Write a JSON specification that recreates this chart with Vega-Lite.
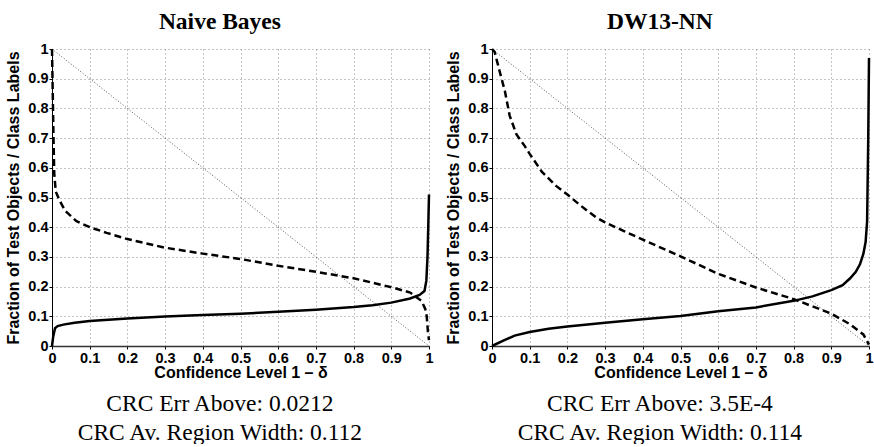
{
  "$schema": "https://vega.github.io/schema/vega-lite/v6.json",
  "padding": {"left": 5, "top": 9, "right": 0, "bottom": 0},
  "background": "white",
  "datasets": {
    "nb_solid": [
      {"x": 0, "y": 0}, {"x": 0.003, "y": 0.03}, {"x": 0.008, "y": 0.06}, {"x": 0.015, "y": 0.067},
      {"x": 0.03, "y": 0.072}, {"x": 0.06, "y": 0.078}, {"x": 0.1, "y": 0.084}, {"x": 0.2, "y": 0.093},
      {"x": 0.3, "y": 0.099}, {"x": 0.4, "y": 0.104}, {"x": 0.5, "y": 0.109}, {"x": 0.6, "y": 0.115},
      {"x": 0.7, "y": 0.122}, {"x": 0.8, "y": 0.131}, {"x": 0.85, "y": 0.137}, {"x": 0.9, "y": 0.146},
      {"x": 0.95, "y": 0.16}, {"x": 0.975, "y": 0.172}, {"x": 0.988, "y": 0.185}, {"x": 0.993, "y": 0.22},
      {"x": 0.996, "y": 0.3}, {"x": 0.998, "y": 0.4}, {"x": 1.0, "y": 0.51}
    ],
    "nb_dashed": [
      {"x": 0, "y": 1}, {"x": 0.002, "y": 0.85}, {"x": 0.004, "y": 0.7}, {"x": 0.006, "y": 0.58},
      {"x": 0.01, "y": 0.52}, {"x": 0.02, "y": 0.49}, {"x": 0.035, "y": 0.455}, {"x": 0.065, "y": 0.42},
      {"x": 0.1, "y": 0.4}, {"x": 0.145, "y": 0.381}, {"x": 0.2, "y": 0.36}, {"x": 0.3, "y": 0.331},
      {"x": 0.4, "y": 0.311}, {"x": 0.5, "y": 0.293}, {"x": 0.6, "y": 0.27}, {"x": 0.7, "y": 0.25},
      {"x": 0.8, "y": 0.228}, {"x": 0.9, "y": 0.198}, {"x": 0.95, "y": 0.18}, {"x": 0.98, "y": 0.152},
      {"x": 0.99, "y": 0.125}, {"x": 0.994, "y": 0.1}, {"x": 0.997, "y": 0.05}, {"x": 1.0, "y": 0.02}
    ],
    "dw_solid": [
      {"x": 0, "y": 0}, {"x": 0.03, "y": 0.018}, {"x": 0.06, "y": 0.035}, {"x": 0.1, "y": 0.047},
      {"x": 0.15, "y": 0.058}, {"x": 0.2, "y": 0.066}, {"x": 0.3, "y": 0.078}, {"x": 0.4, "y": 0.09},
      {"x": 0.5, "y": 0.101}, {"x": 0.6, "y": 0.117}, {"x": 0.7, "y": 0.13}, {"x": 0.8, "y": 0.152},
      {"x": 0.85, "y": 0.167}, {"x": 0.9, "y": 0.188}, {"x": 0.93, "y": 0.205}, {"x": 0.95, "y": 0.228},
      {"x": 0.965, "y": 0.25}, {"x": 0.976, "y": 0.275}, {"x": 0.985, "y": 0.31}, {"x": 0.991, "y": 0.35},
      {"x": 0.995, "y": 0.42}, {"x": 0.998, "y": 0.7}, {"x": 1.0, "y": 0.97}
    ],
    "dw_dashed": [
      {"x": 0, "y": 1}, {"x": 0.007, "y": 0.99}, {"x": 0.02, "y": 0.926}, {"x": 0.034, "y": 0.859},
      {"x": 0.047, "y": 0.775}, {"x": 0.065, "y": 0.712}, {"x": 0.087, "y": 0.673}, {"x": 0.1, "y": 0.647},
      {"x": 0.132, "y": 0.587}, {"x": 0.15, "y": 0.564}, {"x": 0.17, "y": 0.539}, {"x": 0.2, "y": 0.51},
      {"x": 0.233, "y": 0.475}, {"x": 0.25, "y": 0.458}, {"x": 0.275, "y": 0.434}, {"x": 0.3, "y": 0.416},
      {"x": 0.35, "y": 0.387}, {"x": 0.4, "y": 0.358}, {"x": 0.5, "y": 0.302}, {"x": 0.6, "y": 0.243},
      {"x": 0.7, "y": 0.197}, {"x": 0.8, "y": 0.158}, {"x": 0.9, "y": 0.109}, {"x": 0.95, "y": 0.073},
      {"x": 0.985, "y": 0.039}, {"x": 1.0, "y": 0.005}
    ],
    "diag": [{"x": 0, "y": 1}, {"x": 1, "y": 0}]
  },
  "config": {
    "view": {"stroke": null},
    "concat": {"spacing": 11},
    "title": {"color": "black", "anchor": "middle", "frame": "bounds"}
  },
  "hconcat": [
    {
      "title": {"text": "Naive Bayes", "font": "Liberation Serif", "fontWeight": "bold", "fontSize": 23.5, "offset": 8},
      "vconcat": [
        {
          "width": 377, "height": 297,
          "title": {"text": ["CRC Err Above: 0.0212", "CRC Av. Region Width: 0.112"], "orient": "bottom", "font": "Liberation Serif", "fontWeight": "normal", "fontSize": 23.5, "lineHeight": 29, "offset": 11},
          "encoding": {
            "x": {"field": "x", "type": "quantitative", "scale": {"domain": [0, 1], "nice": false}, "axis": {"title": "Confidence Level 1 – δ", "values": [0, 0.1, 0.2, 0.3, 0.4, 0.5, 0.6, 0.7, 0.8, 0.9, 1], "format": "~g", "labelPadding": 2, "titlePadding": 0, "labelFont": "Liberation Sans", "labelFontWeight": "bold", "labelFontSize": 14.5, "labelColor": "black", "titleFont": "Liberation Sans", "titleFontWeight": "bold", "titleFontSize": 16, "titleColor": "black", "domainColor": "#333", "domainWidth": 1.5, "tickColor": "black", "tickSize": 3, "grid": true, "gridColor": "#8a8a8a", "gridDash": [1, 3], "gridWidth": 1, "labelFlush": false, "labelOverlap": false}},
            "y": {"field": "y", "type": "quantitative", "scale": {"domain": [0, 1], "nice": false}, "axis": {"title": "Fraction of Test Objects / Class Labels", "values": [0, 0.1, 0.2, 0.3, 0.4, 0.5, 0.6, 0.7, 0.8, 0.9, 1], "format": "~g", "labelPadding": 1, "titlePadding": 6, "labelFont": "Liberation Sans", "labelFontWeight": "bold", "labelFontSize": 14.5, "labelColor": "black", "titleFont": "Liberation Sans", "titleFontWeight": "bold", "titleFontSize": 16, "titleColor": "black", "domainColor": "black", "domainWidth": 1, "tickColor": "black", "tickSize": 3, "grid": true, "gridColor": "#8a8a8a", "gridDash": [1, 3], "gridWidth": 1, "labelFlush": false, "labelOverlap": false}}
          },
          "layer": [
            {"data": {"name": "diag"}, "mark": {"type": "line", "color": "#555", "strokeWidth": 1, "strokeDash": [1, 2]}},
            {"data": {"name": "nb_dashed"}, "mark": {"type": "line", "color": "black", "strokeWidth": 2.5, "strokeDash": [7, 4]}},
            {"data": {"name": "nb_solid"}, "mark": {"type": "line", "color": "black", "strokeWidth": 2.5}}
          ]
        }
      ]
    },
    {
      "title": {"text": "DW13-NN", "font": "Liberation Serif", "fontWeight": "bold", "fontSize": 23.5, "offset": 8},
      "vconcat": [
        {
          "width": 377, "height": 297,
          "title": {"text": ["CRC Err Above: 3.5E-4", "CRC Av. Region Width: 0.114"], "orient": "bottom", "font": "Liberation Serif", "fontWeight": "normal", "fontSize": 23.5, "lineHeight": 29, "offset": 11},
          "encoding": {
            "x": {"field": "x", "type": "quantitative", "scale": {"domain": [0, 1], "nice": false}, "axis": {"title": "Confidence Level 1 – δ", "values": [0, 0.1, 0.2, 0.3, 0.4, 0.5, 0.6, 0.7, 0.8, 0.9, 1], "format": "~g", "labelPadding": 2, "titlePadding": 0, "labelFont": "Liberation Sans", "labelFontWeight": "bold", "labelFontSize": 14.5, "labelColor": "black", "titleFont": "Liberation Sans", "titleFontWeight": "bold", "titleFontSize": 16, "titleColor": "black", "domainColor": "#333", "domainWidth": 1.5, "tickColor": "black", "tickSize": 3, "grid": true, "gridColor": "#8a8a8a", "gridDash": [1, 3], "gridWidth": 1, "labelFlush": false, "labelOverlap": false}},
            "y": {"field": "y", "type": "quantitative", "scale": {"domain": [0, 1], "nice": false}, "axis": {"title": "Fraction of Test Objects / Class Labels", "values": [0, 0.1, 0.2, 0.3, 0.4, 0.5, 0.6, 0.7, 0.8, 0.9, 1], "format": "~g", "labelPadding": 1, "titlePadding": 6, "labelFont": "Liberation Sans", "labelFontWeight": "bold", "labelFontSize": 14.5, "labelColor": "black", "titleFont": "Liberation Sans", "titleFontWeight": "bold", "titleFontSize": 16, "titleColor": "black", "domainColor": "black", "domainWidth": 1, "tickColor": "black", "tickSize": 3, "grid": true, "gridColor": "#8a8a8a", "gridDash": [1, 3], "gridWidth": 1, "labelFlush": false, "labelOverlap": false}}
          },
          "layer": [
            {"data": {"name": "diag"}, "mark": {"type": "line", "color": "#555", "strokeWidth": 1, "strokeDash": [1, 2]}},
            {"data": {"name": "dw_dashed"}, "mark": {"type": "line", "color": "black", "strokeWidth": 2.5, "strokeDash": [7, 4]}},
            {"data": {"name": "dw_solid"}, "mark": {"type": "line", "color": "black", "strokeWidth": 2.5}}
          ]
        }
      ]
    }
  ]
}
